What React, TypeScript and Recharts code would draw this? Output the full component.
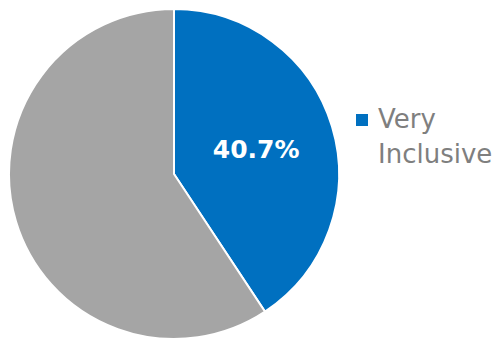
import { PieChart, Pie, Cell, Legend } from 'recharts';

const categories = ['Very Inclusive', 'Other'];
const shares = [40.7, 59.3];
const sliceColors = ['#0070C0', '#A5A5A5'];
const legendLines = ['Very', 'Inclusive'];

const data = categories.map((name, i) => ({ name, value: shares[i] }));

const RADIAN = Math.PI / 180;

const renderLabel = (props: any) => {
  const { cx, cy, midAngle, outerRadius, index, value } = props;
  if (index !== 0) return null;
  const r = outerRadius * 0.52;
  const x = cx + r * Math.cos(-midAngle * RADIAN);
  const y = cy + r * Math.sin(-midAngle * RADIAN);
  return (
    <text
      x={x}
      y={y}
      fill="#ffffff"
      textAnchor="middle"
      dominantBaseline="central"
      style={{ fontFamily: 'DejaVu Sans', fontWeight: 700, fontSize: '25px' }}
    >
      {`${value.toFixed(1)}%`}
    </text>
  );
};

const renderLegend = () => (
  <div style={{ fontFamily: 'DejaVu Sans', fontSize: '26px', color: '#7F7F7F', lineHeight: '35px' }}>
    <div style={{ display: 'flex', alignItems: 'center' }}>
      <span style={{ display: 'inline-block', width: 12, height: 12, background: sliceColors[0], marginRight: 10 }} />
      <span>{legendLines[0]}</span>
    </div>
    <div style={{ paddingLeft: 22 }}>{legendLines[1]}</div>
  </div>
);

export default function App() {
  return (
    <div style={{ position: 'absolute', left: 0, top: 0, width: 494, height: 339, background: '#ffffff' }}>
      <PieChart width={494} height={339} margin={{ top: 0, right: 0, bottom: 0, left: 0 }}>
        <Pie
          data={data}
          dataKey="value"
          nameKey="name"
          cx={174}
          cy={174}
          outerRadius={165}
          startAngle={90}
          endAngle={-270}
          stroke="#ffffff"
          strokeWidth={2}
          label={renderLabel}
          labelLine={false}
          isAnimationActive={false}
        >
          {data.map((d, i) => (
            <Cell key={d.name} fill={sliceColors[i]} />
          ))}
        </Pie>
        <Legend
          content={renderLegend}
          wrapperStyle={{ position: 'absolute', left: 356, top: 102, width: 140 }}
        />
      </PieChart>
    </div>
  );
}
